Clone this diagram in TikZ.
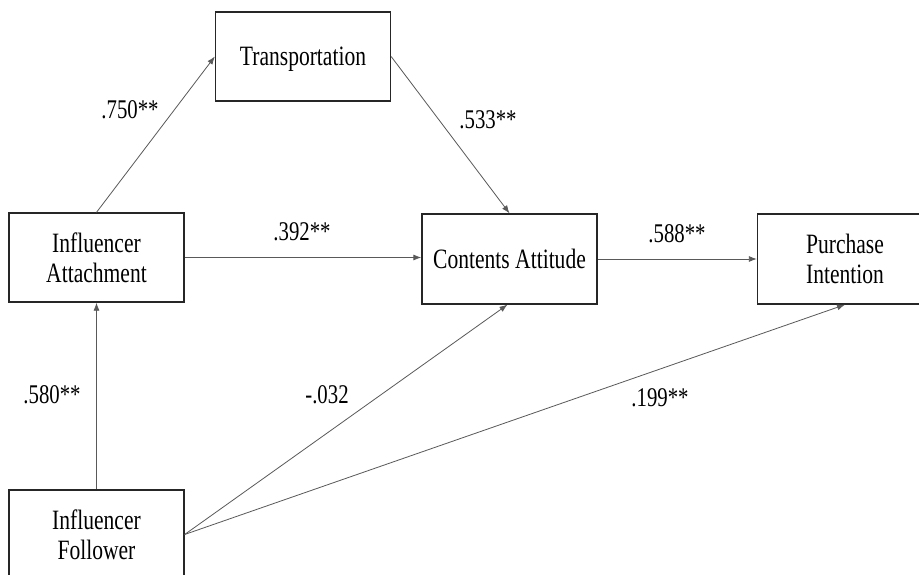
\documentclass[tikz,border=0pt]{standalone}
\usepackage{fontspec}
\setmainfont{Liberation Serif}
\usetikzlibrary{arrows.meta}
\newcommand{\sqz}[1]{\scalebox{0.77}[1]{\begin{tabular}{@{}c@{}}#1\end{tabular}}}
\newcommand{\bxt}[1]{\raisebox{-3.5pt}[\height][\depth]{\sqz{#1}}}
\tikzset{
  varbox/.style={draw=black!85, line width=1.3pt, rectangle, minimum width=175pt, minimum height=89pt, inner sep=0pt, font=\fontsize{28}{30}\selectfont},
  pathline/.style={draw=black!65, line width=0.8pt, -{Latex[length=8pt,width=6pt]}},
  coef/.style={inner sep=0pt, font=\fontsize{27}{30}\selectfont}
}
\begin{document}
\begin{tikzpicture}[x=1pt,y=-1pt]
\clip (0,0) rectangle (919,575);
\fill[white] (0,0) rectangle (919,575);
\node[varbox] (TR) at (303,56.5) {\bxt{Transportation}};
\node[varbox] (IA) at (96.5,257.5) {\bxt{Influencer\\Attachment}};
\node[varbox, minimum height=90pt] (CA) at (509.5,259) {\bxt{Contents Attitude}};
\node[varbox, minimum height=90pt] (PI) at (845,259) {\bxt{Purchase\\Intention}};
\node[varbox] (IF) at (96.5,534.5) {\bxt{Influencer\\Follower}};
\draw[pathline] (IA.north) -- (TR.west);
\draw[pathline] (IA.east) -- (IA.east -| CA.west);
\draw[pathline] (TR.east) -- (CA.north);
\draw[pathline] (CA.east) -- (CA.east -| PI.west);
\draw[pathline] (IF.north) -- (IA.south);
\draw[pathline] (IF.east) -- ([xshift=-2pt]CA.south);
\draw[pathline] (IF.east) -- (PI.south);
\node[coef] (c1) at (130,113) {\sqz{.750**}};
\node[coef] (c2) at (302,234) {\sqz{.392**}};
\node[coef] (c3) at (488,123) {\sqz{.533**}};
\node[coef] (c4) at (677,237) {\sqz{.588**}};
\node[coef] (c5) at (52,397) {\sqz{.580**}};
\node[coef] (c6) at (327,397) {\sqz{-.032}};
\node[coef] (c7) at (660,400) {\sqz{.199**}};
\end{tikzpicture}
\end{document}
